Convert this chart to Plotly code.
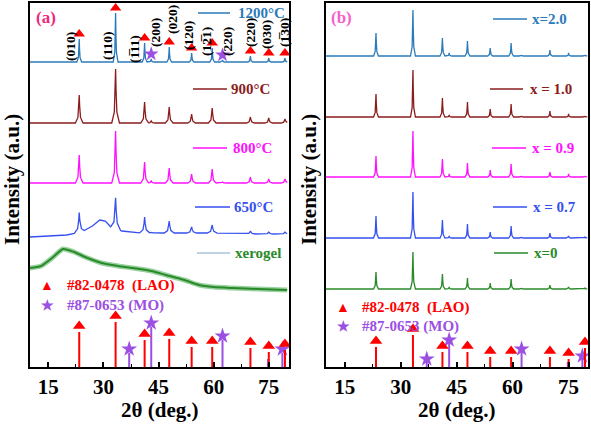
import numpy as np
import plotly.graph_objects as go

# ---------------- data (2theta in degrees, intensity in a.u.) ----------------
LAO_POS = [23.4, 33.3, 41.2, 47.9, 54.0, 59.6, 70.0, 75.0, 79.4]
MO_POS = [37.0, 43.0, 62.4, 74.8, 78.7]

# panel (a): annealing temperature series, peak heights above local background
A_NAMES = ["1200°C", "900°C", "800°C", "650°C"]
A_LAO_H = {
    "1200°C": [23, 49, 19, 15, 9, 14, 6, 4, 4],
    "900°C": [28, 54, 21, 16, 9, 15, 6, 5, 4],
    "800°C": [28, 52, 21, 15, 9, 14, 6, 4, 4],
    "650°C": [20, 31, 16, 12, 6, 8, 3, 2, 2],
}
A_MO_H = {
    "1200°C": [0, 3, 2, 0, 0],
    "900°C": [0, 2, 0, 0, 0],
    "800°C": [0, 2, 1, 0, 0],
    "650°C": [0, 1, 0, 0, 0],
}
# broad background of the 650°C sample (2theta, a.u. above its baseline)
BG650_X = [10, 15, 20, 24, 27, 29, 30.5, 32, 35, 40, 50, 60, 70, 80]
BG650_Y = [0, 1, 2, 5, 11, 17, 16, 10, 6, 4, 4, 4, 3, 3]
# amorphous xerogel hump
XERO_X = [10, 13, 16, 19, 22, 25, 29.5, 34, 38, 43, 47, 52, 56, 60, 65, 72, 80]
XERO_Y = [22, 24, 32, 41, 38, 33, 27, 24, 22, 19, 15, 10, 5, 3, 2, 1, 0]

# panel (b): composition series
B_NAMES = ["x=2.0", "x = 1.0", "x = 0.9", "x = 0.7", "x=0"]
B_LAO_H = {
    "x=2.0": [23, 46, 18, 15, 8, 13, 6, 3, 1],
    "x = 1.0": [23, 47, 19, 15, 8, 13, 6, 3, 1],
    "x = 0.9": [21, 46, 18, 14, 7, 13, 5, 3, 1],
    "x = 0.7": [22, 46, 18, 14, 6, 12, 5, 2, 1],
    "x=0": [17, 37, 15, 11, 6, 10, 4, 2, 1],
}
B_MO_H = {
    "x=2.0": [0, 3, 1, 0, 0],
    "x = 1.0": [0, 2, 1, 0, 0],
    "x = 0.9": [0, 3, 1, 0, 0],
    "x = 0.7": [0, 2, 1, 0, 0],
    "x=0": [0, 2, 1, 0, 0],
}

# reference patterns (stick heights)
A_LAO_REF = [35, 45, 27, 28, 20, 20, 19, 15, 17]
A_MO_REF = [14, 40, 27, 8, 14]
B_LAO_REF = [20, 32, 15, 15, 10, 10, 10, 8, 19]
B_MO_REF = [5, 24, 15, 5, 8]
MO_STAR = [True, True, True, False, True]

HKL_LAO = ["(010)", "(110)", "(1\u030511)", "(020)", "(120)", "(12\u03051)", "(220)", "(030)", "(1\u030530)"]
HKL_MO = ["(200)", "(220)"]

# ---------------- styling ----------------
W, H = 591, 426
FONT = "Liberation Serif, Times New Roman, serif"
COL = {
    "1200°C": "#2b7bba", "900°C": "#8b1c1c", "800°C": "#ff10ff", "650°C": "#3550ee",
    "x=2.0": "#2b7bba", "x = 1.0": "#8b1c1c", "x = 0.9": "#ff10ff", "x = 0.7": "#3550ee", "x=0": "#2a8a2a",
}
RED = "#ff0000"
PURPLE = "#9b4fe3"
GREEN = "#2a8a2a"

A_OFF = {"1200°C": 305, "900°C": 244, "800°C": 184, "650°C": 130}
B_OFF = {"x=2.0": 311, "x = 1.0": 250, "x = 0.9": 190, "x = 0.7": 129, "x=0": 78}
XERO_OFF = 77
WIDTH = {"1200°C": 0.22, "900°C": 0.35, "800°C": 0.35, "650°C": 0.45}


def px(x):
    return x / W


def py(y):
    return 1 - y / H


def profile(bg_x, bg_y, offset, lao_h, mo_h, w):
    pos = list(LAO_POS) + list(MO_POS)
    hts = list(lao_h) + list(mo_h)
    rel = [-3, -1, -0.35, 0, 0.35, 1, 3]
    shape = [0, 0.2, 0.6, 1, 0.6, 0.2, 0]
    xs = set(bg_x)
    for p, h in zip(pos, hts):
        if h > 0:
            for r in rel:
                xs.add(p + r * w)
    xs = np.array(sorted(x for x in xs if 10 <= x <= 80))
    ys = np.interp(xs, bg_x, bg_y) + offset
    for p, h in zip(pos, hts):
        if h > 0:
            ys = ys + h * np.interp(xs, [p + r * w for r in rel], shape, left=0, right=0)
    return xs, ys


fig = go.Figure()

# ---------- panel (a) ----------
for name in A_NAMES:
    if name == "650°C":
        bx, by = BG650_X, BG650_Y
    else:
        bx, by = [10, 80], [0, 0]
    xs, ys = profile(bx, by, A_OFF[name], A_LAO_H[name], A_MO_H[name], WIDTH[name])
    fig.add_trace(go.Scatter(x=xs, y=ys, mode="lines", line=dict(color=COL[name], width=1.3),
                             xaxis="x", yaxis="y", showlegend=False, hoverinfo="skip"))

xero_y = np.array(XERO_Y) + XERO_OFF
fig.add_trace(go.Scatter(x=XERO_X, y=xero_y, mode="lines", line=dict(color="rgba(110,190,120,0.7)", width=5, shape="spline", smoothing=0.6),
                         xaxis="x", yaxis="y", showlegend=False, hoverinfo="skip"))
fig.add_trace(go.Scatter(x=XERO_X, y=xero_y, mode="lines", line=dict(color=GREEN, width=2, shape="spline", smoothing=0.6),
                         xaxis="x", yaxis="y", showlegend=False, hoverinfo="skip"))

# markers on the 1200°C pattern
top1200 = [A_OFF["1200°C"] + h + 5 for h in A_LAO_H["1200°C"]]
fig.add_trace(go.Scatter(x=LAO_POS, y=top1200, mode="markers",
                         marker=dict(symbol="triangle-up", size=10, color=RED),
                         xaxis="x", yaxis="y", showlegend=False, hoverinfo="skip"))
fig.add_trace(go.Scatter(x=[MO_POS[1], MO_POS[2]], y=[A_OFF["1200°C"] + 8, A_OFF["1200°C"] + 7], mode="markers",
                         marker=dict(symbol="star", size=11, color=PURPLE),
                         xaxis="x", yaxis="y", showlegend=False, hoverinfo="skip"))


def sticks(pos, hts, axx, axy, color, symbol, msize, star_mask=None, mk_off=5):
    xs, ys = [], []
    for p, h in zip(pos, hts):
        xs += [p, p, None]
        ys += [0, h, None]
    fig.add_trace(go.Scatter(x=xs, y=ys, mode="lines", line=dict(color=color, width=2),
                             xaxis=axx, yaxis=axy, showlegend=False, hoverinfo="skip"))
    mx = [p for i, p in enumerate(pos) if star_mask is None or star_mask[i]]
    my = [h + mk_off for i, h in enumerate(hts) if star_mask is None or star_mask[i]]
    fig.add_trace(go.Scatter(x=mx, y=my, mode="markers", marker=dict(symbol=symbol, size=msize, color=color),
                             xaxis=axx, yaxis=axy, showlegend=False, hoverinfo="skip"))


sticks(MO_POS, A_MO_REF, "x", "y", PURPLE, "star", 12, MO_STAR, 4)
sticks(LAO_POS, A_LAO_REF, "x", "y", RED, "triangle-up", 11, None, 6)

# ---------- panel (b) ----------
for name in B_NAMES:
    xs, ys = profile([10, 80], [0, 0], B_OFF[name], B_LAO_H[name], B_MO_H[name], 0.22)
    fig.add_trace(go.Scatter(x=xs, y=ys, mode="lines", line=dict(color=COL[name], width=1.3),
                             xaxis="x2", yaxis="y2", showlegend=False, hoverinfo="skip"))

sticks(MO_POS, B_MO_REF, "x2", "y2", PURPLE, "star", 12, MO_STAR, 3)
sticks(LAO_POS, B_LAO_REF, "x2", "y2", RED, "triangle-up", 11, None, 6)

# ---------- axes ----------
axis_common = dict(showline=True, linecolor="black", linewidth=1.8, mirror=True,
                   showgrid=False, zeroline=False)
xcommon = dict(axis_common, tick0=15, dtick=15, ticks="inside", ticklen=5, tickwidth=1.5, tickcolor="black",
               minor=dict(ticks="inside", ticklen=3, tickwidth=1.2, tickcolor="black", dtick=7.5, tick0=15),
               tickfont=dict(family=FONT, size=21, color="black", weight="bold"))
ycommon = dict(axis_common, showticklabels=False, ticks="", range=[0, 364])

ydom = [1 - 367 / H, 1 - 3 / H]
fig.update_layout(
    width=W, height=H, margin=dict(l=0, r=0, t=0, b=0),
    paper_bgcolor="white", plot_bgcolor="white",
    xaxis=dict(xcommon, domain=[px(30), px(289)], range=[10, 80.5], anchor="y"),
    yaxis=dict(ycommon, domain=ydom, anchor="x"),
    xaxis2=dict(xcommon, domain=[px(326), px(588)], range=[10, 80.2], anchor="y2"),
    yaxis2=dict(ycommon, domain=ydom, anchor="x2"),
)

ann = []
shapes = []


def text(x, y, s, color, size=14, xanchor="left", angle=0):
    ann.append(dict(x=px(x), y=py(y), xref="paper", yref="paper", text="<b>" + s + "</b>", showarrow=False,
                    xanchor=xanchor, yanchor="middle", textangle=angle,
                    font=dict(family=FONT, size=size, color=color)))


def key(x0, x1, y, color, width=1.5):
    shapes.append(dict(type="line", xref="paper", yref="paper", x0=px(x0), x1=px(x1), y0=py(y), y1=py(y),
                       line=dict(color=color, width=width)))


# axis titles
for cx in (159.5, 457):
    text(cx, 410, "2θ (deg.)", "black", 21, "center")
for cx in (12, 309):
    text(cx, 180, "Intensity (a.u.)", "black", 21, "center", -90)

text(46, 18, "(a)", "#f0287a", 17, "center")
text(341, 17, "(b)", "#f760c8", 17, "center")

# legends panel (a)
a_leg = [("1200°C", 198, 230, 13, 236, COL["1200°C"]),
         ("900°C", 193, 227, 89, 229, COL["900°C"]),
         ("800°C", 193, 227, 148, 231, COL["800°C"]),
         ("650°C", 195, 230, 207, 232, COL["650°C"])]
for s, x0, x1, y, tx, c in a_leg:
    key(x0, x1, y, c)
    text(tx, y, s, c, 15)
key(197, 230, 253, "#a9c3da")
text(233, 253, "xerogel", GREEN, 15)

b_leg = [("x=2.0", 493, 527, 19, 530),
         ("x = 1.0", 490, 523, 89, 528),
         ("x = 0.9", 492, 526, 148, 530),
         ("x = 0.7", 493, 527, 207, 531),
         ("x=0", 494, 528, 253, 532)]
for s, x0, x1, y, tx in b_leg:
    key(x0, x1, y, COL[s])
    text(tx, y, s, COL[s], 15)

# reference legends
text(47, 285, "▲", RED, 14, "center")
text(65, 285, "#82-0478  (LAO)", RED, 15)
text(47, 305, "★", PURPLE, 14, "center")
text(65, 305, "#87-0653 (MO)", PURPLE, 15)
text(343, 307, "▲", RED, 14, "center")
text(360, 307, "#82-0478  (LAO)", RED, 15)
text(343, 326, "★", PURPLE, 14, "center")
text(360, 326, "#87-0653 (MO)", PURPLE, 15)

# Miller indices on the 1200°C pattern
hkl_pos = [(70, 47), (107, 46), (134, 49), (172, 20), (188, 36), (207, 42), (250, 33), (267, 35), (284, 33)]
for s, (x, y) in zip(HKL_LAO, hkl_pos):
    text(x, y, s, "black", 13.5, "center", -90)
for s, (x, y) in zip(HKL_MO, [(155, 33), (228, 42)]):
    text(x, y, s, "black", 13.5, "center", -90)

fig.update_layout(annotations=ann, shapes=shapes)
fig.write_html("out.html", config={"displayModeBar": False},
               post_script="document.body.style.margin='0';document.body.style.padding='0';")
